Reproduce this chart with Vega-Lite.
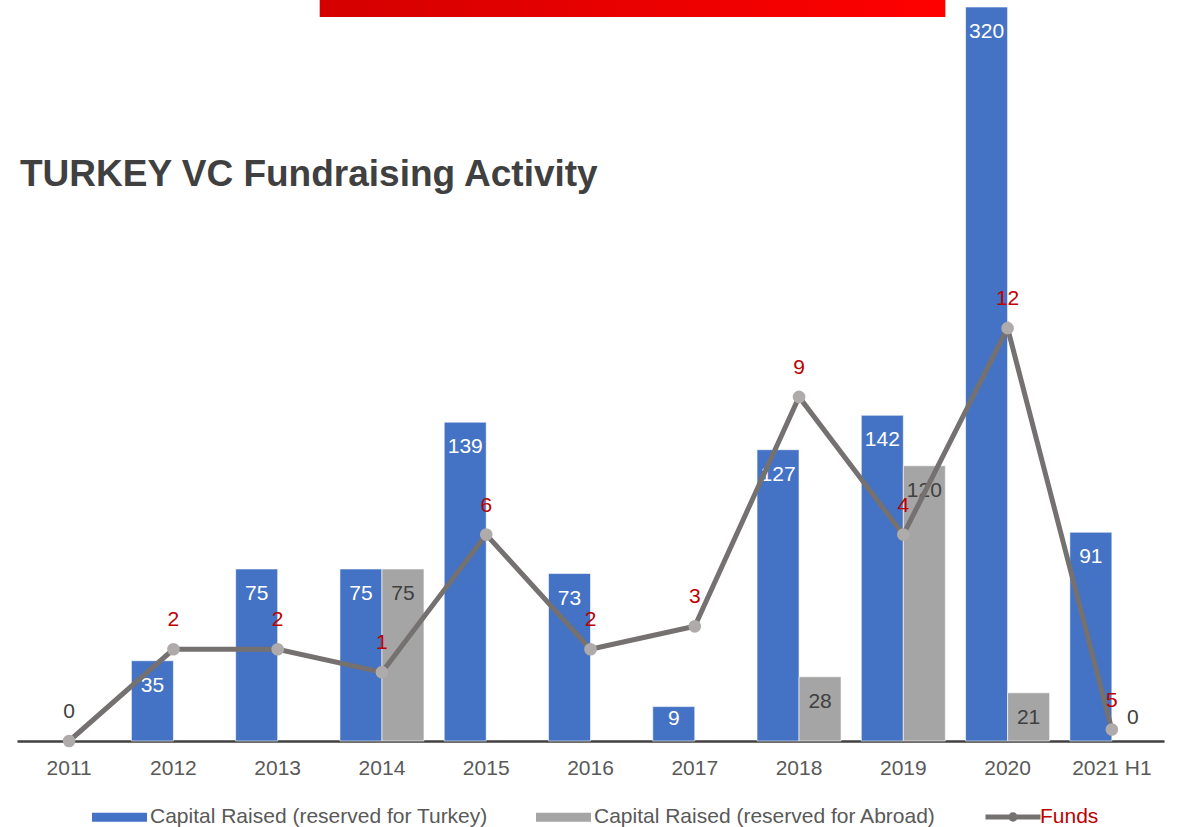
{
  "$schema": "https://vega.github.io/schema/vega-lite/v6.json",
  "width": 1147,
  "height": 734,
  "autosize": {"type": "none"},
  "padding": {"left": 17, "top": 7, "right": 14, "bottom": 86},
  "config": {
    "font": "Liberation Sans",
    "view": {"stroke": null},
    "axis": {"grid": false}
  },
  "title": {
    "text": "TURKEY VC Fundraising Activity",
    "anchor": "start",
    "frame": "group",
    "fontSize": 37,
    "fontWeight": "bold",
    "font": "Liberation Sans",
    "color": "#404040",
    "dx": 3,
    "dy": 198
  },
  "datasets": {
    "banner": [{"part": "header"}],
    "bars": [
      {"year": "2012", "series": "Capital Raised (reserved for Turkey)", "value": 35, "label": 35},
      {"year": "2013", "series": "Capital Raised (reserved for Turkey)", "value": 75, "label": 75},
      {"year": "2014", "series": "Capital Raised (reserved for Turkey)", "value": 75, "label": 75},
      {"year": "2014", "series": "Capital Raised (reserved for Abroad)", "value": 75, "label": 75},
      {"year": "2015", "series": "Capital Raised (reserved for Turkey)", "value": 139, "label": 139},
      {"year": "2016", "series": "Capital Raised (reserved for Turkey)", "value": 73, "label": 73},
      {"year": "2017", "series": "Capital Raised (reserved for Turkey)", "value": 15, "label": 9},
      {"year": "2018", "series": "Capital Raised (reserved for Turkey)", "value": 127, "label": 127},
      {"year": "2018", "series": "Capital Raised (reserved for Abroad)", "value": 28, "label": 28},
      {"year": "2019", "series": "Capital Raised (reserved for Turkey)", "value": 142, "label": 142},
      {"year": "2019", "series": "Capital Raised (reserved for Abroad)", "value": 120, "label": 120},
      {"year": "2020", "series": "Capital Raised (reserved for Turkey)", "value": 320, "label": 320},
      {"year": "2020", "series": "Capital Raised (reserved for Abroad)", "value": 21, "label": 21},
      {"year": "2021 H1", "series": "Capital Raised (reserved for Turkey)", "value": 91, "label": 91},
      {"year": "2021 H1", "series": "Capital Raised (reserved for Abroad)", "value": 0, "label": 0}
    ],
    "funds": [
      {"year": "2011", "funds": 0, "line_pos": 0},
      {"year": "2012", "funds": 2, "line_pos": 40},
      {"year": "2013", "funds": 2, "line_pos": 40},
      {"year": "2014", "funds": 1, "line_pos": 30},
      {"year": "2015", "funds": 6, "line_pos": 90},
      {"year": "2016", "funds": 2, "line_pos": 40},
      {"year": "2017", "funds": 3, "line_pos": 50},
      {"year": "2018", "funds": 9, "line_pos": 150},
      {"year": "2019", "funds": 4, "line_pos": 90},
      {"year": "2020", "funds": 12, "line_pos": 180},
      {"year": "2021 H1", "funds": 5, "line_pos": 5}
    ]
  },
  "layer": [
    {
      "data": {"name": "bars"},
      "transform": [{"filter": "datum.value > 0"}],
      "mark": {"type": "bar", "stroke": "#ffffff", "strokeWidth": 0.6},
      "encoding": {
        "x": {
          "field": "year",
          "type": "nominal",
          "scale": {
            "domain": ["2011", "2012", "2013", "2014", "2015", "2016", "2017", "2018", "2019", "2020", "2021 H1"],
            "paddingInner": 0.194,
            "paddingOuter": 0.097
          },
          "axis": {
            "title": null,
            "labelAngle": 0,
            "labelFontSize": 21,
            "labelColor": "#595959",
            "ticks": false,
            "tickSize": 0,
            "labelPadding": 16,
            "domainColor": "#404040",
            "domainWidth": 2.5
          }
        },
        "xOffset": {
          "field": "series",
          "type": "nominal",
          "scale": {"domain": ["Capital Raised (reserved for Turkey)", "Capital Raised (reserved for Abroad)"], "paddingInner": 0, "paddingOuter": 0}
        },
        "y": {
          "field": "value",
          "type": "quantitative",
          "scale": {"domain": [0, 320], "nice": false, "zero": true},
          "axis": null
        },
        "color": {
          "field": "series",
          "type": "nominal",
          "scale": {
            "domain": ["Capital Raised (reserved for Turkey)", "Capital Raised (reserved for Abroad)"],
            "range": ["#4472C4", "#A5A5A5"]
          },
          "legend": {
            "title": null,
            "orient": "none",
            "legendX": 75,
            "legendY": 782.5,
            "direction": "horizontal",
            "symbolType": "M-1,-0.16H1V0.16H-1Z",
            "symbolSize": 3025,
            "symbolStrokeWidth": 0,
            "labelFontSize": 21,
            "labelFont": "Liberation Sans",
            "labelColor": "#595959",
            "labelOffset": 3,
            "columnPadding": 48,
            "labelLimit": 600
          }
        }
      }
    },
    {
      "data": {"name": "bars"},
      "transform": [{"filter": "datum.value >= 20"}],
      "mark": {"type": "text", "fontSize": 21, "baseline": "middle", "dy": 25},
      "encoding": {
        "x": {"field": "year", "type": "nominal"},
        "xOffset": {"field": "series", "type": "nominal"},
        "y": {"field": "value", "type": "quantitative"},
        "text": {"field": "label", "type": "quantitative"},
        "color": {
          "condition": {"test": "datum.series === 'Capital Raised (reserved for Turkey)'", "value": "#ffffff"},
          "value": "#404040"
        }
      }
    },
    {
      "data": {"name": "bars"},
      "transform": [{"filter": "datum.value > 0 && datum.value < 20"}],
      "mark": {"type": "text", "fontSize": 21, "baseline": "middle", "dy": 12, "color": "#ffffff"},
      "encoding": {
        "x": {"field": "year", "type": "nominal"},
        "xOffset": {"field": "series", "type": "nominal"},
        "y": {"field": "value", "type": "quantitative"},
        "text": {"field": "label", "type": "quantitative"}
      }
    },
    {
      "data": {"name": "bars"},
      "transform": [{"filter": "datum.value === 0"}],
      "mark": {"type": "text", "fontSize": 21, "baseline": "middle", "dy": -23, "color": "#404040"},
      "encoding": {
        "x": {"field": "year", "type": "nominal"},
        "xOffset": {"field": "series", "type": "nominal"},
        "y": {"field": "value", "type": "quantitative"},
        "text": {"field": "label", "type": "quantitative"}
      }
    },
    {
      "data": {"name": "funds"},
      "mark": {"type": "line", "strokeWidth": 5},
      "encoding": {
        "x": {"field": "year", "type": "nominal"},
        "y": {"field": "line_pos", "type": "quantitative"},
        "stroke": {
          "datum": "Funds",
          "type": "nominal",
          "scale": {"domain": ["Funds"], "range": ["#767171"]},
          "legend": {
            "title": null,
            "orient": "none",
            "legendX": 966,
            "legendY": 780,
            "symbolType": "M-1,0H1M-0.08,0A0.08,0.08 0 1,1 0.08,0A0.08,0.08 0 1,1 -0.08,0",
            "symbolSize": 3025,
            "symbolStrokeWidth": 5,
            "symbolFillColor": "transparent",
            "labelFontSize": 21,
            "labelFont": "Liberation Sans",
            "labelColor": "#C00000",
            "labelOffset": -3
          }
        }
      }
    },
    {
      "data": {"name": "funds"},
      "mark": {"type": "point", "filled": true, "size": 160, "color": "#AFABAB", "opacity": 1},
      "encoding": {
        "x": {"field": "year", "type": "nominal"},
        "y": {"field": "line_pos", "type": "quantitative"}
      }
    },
    {
      "data": {"name": "funds"},
      "mark": {"type": "text", "fontSize": 21, "baseline": "middle", "dy": -29},
      "encoding": {
        "x": {"field": "year", "type": "nominal"},
        "y": {"field": "line_pos", "type": "quantitative"},
        "text": {"field": "funds", "type": "quantitative"},
        "color": {
          "condition": {"test": "datum.funds === 0", "value": "#404040"},
          "value": "#C00000"
        }
      }
    },
    {
      "data": {"name": "banner"},
      "mark": {
        "type": "rect",
        "fill": {
          "gradient": "linear",
          "x1": 0, "x2": 1, "y1": 0, "y2": 0,
          "stops": [{"offset": 0, "color": "#D40000"}, {"offset": 1, "color": "#FF0000"}]
        }
      },
      "encoding": {
        "x": {"datum": "2013", "type": "nominal", "bandPosition": 1},
        "x2": {"datum": "2019", "bandPosition": 1},
        "y": {"datum": 323.05, "type": "quantitative"},
        "y2": {"datum": 315.6}
      }
    }
  ]
}
